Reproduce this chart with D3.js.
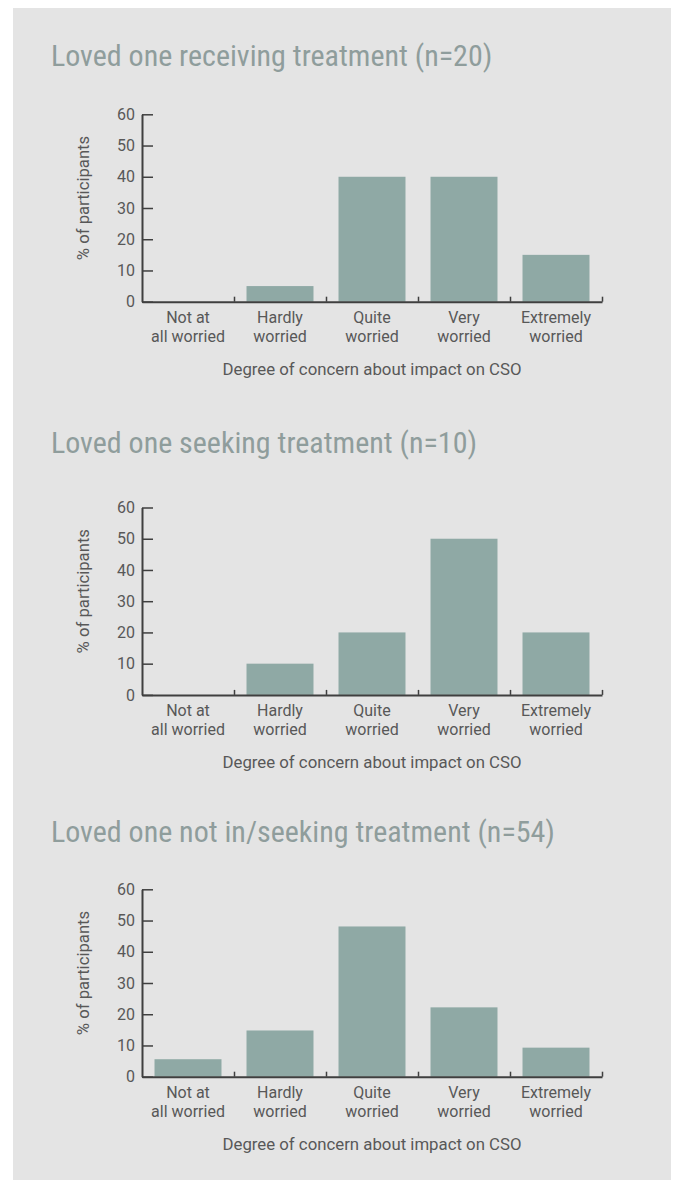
<!DOCTYPE html>
<html lang="en">
<head>
    <meta charset="UTF-8">
    <title>Degree of concern about impact on CSO</title>
    <style>
        body { margin: 0; background: #fff; }
        svg text { font-family: Roboto, "Liberation Sans", sans-serif; }
        svg text.title { font-family: "Liberation Sans Narrow", "Roboto Condensed", "DejaVu Sans Condensed", sans-serif; }
    </style>
</head>
<body>
<script src="https://d3js.org/d3.v7.min.js"></script>
<script>
    // chart data
    const categories = ["Not at all worried", "Hardly worried", "Quite worried", "Very worried", "Extremely worried"];
    const categoryLines = [["Not at", "all worried"], ["Hardly", "worried"], ["Quite", "worried"], ["Very", "worried"], ["Extremely", "worried"]];
    const titles = [
        "Loved one receiving treatment (n=20)",
        "Loved one seeking treatment (n=10)",
        "Loved one not in/seeking treatment (n=54)"
    ];
    const receivingValues = [0, 5, 40, 40, 15];
    const seekingValues = [0, 10, 20, 50, 20];
    const notSeekingValues = [5.6, 14.8, 48.1, 22.2, 9.3];
    const yTicks = [0, 10, 20, 30, 40, 50, 60];
    const yLabel = "% of participants";
    const xLabel = "Degree of concern about impact on CSO";

    // layout
    const width = 676, height = 1184;
    const left = 142, right = 602;
    const plotHeight = 187.4;
    const plotTops = [114.3, 507.5, 889.3];
    const titleBaselines = [66, 453, 842];
    const barColor = "#8fa9a5";
    const textColor = "#585858";
    const axisColor = "#3f3f3f";

    const svg = d3.select("body")
        .append("svg")
        .attr("width", width)
        .attr("height", height);

    // grey panel behind everything
    svg.append("rect")
        .attr("x", 13)
        .attr("y", 8)
        .attr("width", 658)
        .attr("height", 1172)
        .attr("fill", "#e4e4e4");

    const x = d3.scaleBand()
        .domain(categories)
        .range([left, right])
        .paddingInner(0.272)
        .paddingOuter(0.136);

    // boundaries between categories for the small upward ticks
    const xEdge = d3.scaleLinear()
        .domain([0, categories.length])
        .range([left, right]);

    const y = d3.scaleLinear()
        .domain([0, 60])
        .range([plotHeight, 0]);

    function drawChart(values, title, top, titleY) {
        svg.append("text")
            .attr("class", "title")
            .attr("x", 51)
            .attr("y", titleY)
            .attr("fill", "#8f9d9c")
            .style("font-size", "30px")
            .text(title);

        const g = svg.append("g")
            .attr("transform", `translate(0,${top})`);

        // bars
        g.selectAll("rect.bar")
            .data(values)
            .join("rect")
            .attr("class", "bar")
            .attr("x", (d, i) => x(categories[i]))
            .attr("width", x.bandwidth())
            .attr("y", d => y(d))
            .attr("height", d => plotHeight - y(d))
            .attr("fill", barColor);

        // y axis, ticks pointing inward
        const yAxis = g.append("g")
            .attr("transform", `translate(${left},0)`)
            .call(d3.axisLeft(y).tickValues(yTicks).tickSizeInner(-11).tickSizeOuter(0).tickPadding(7));
        yAxis.select(".domain").attr("stroke", axisColor).attr("stroke-width", 2);
        yAxis.selectAll(".tick line").attr("stroke", axisColor).attr("stroke-width", 1.5);
        yAxis.selectAll(".tick text")
            .attr("fill", textColor)
            .style("font-size", "16px");

        // x axis labels (band centres), two lines each
        const xAxis = g.append("g")
            .attr("transform", `translate(0,${plotHeight})`)
            .call(d3.axisBottom(x).tickSize(0).tickPadding(10));
        xAxis.select(".domain").remove();
        xAxis.selectAll(".tick text")
            .attr("fill", textColor)
            .style("font-size", "16px")
            .each(function (d, i) {
                const t = d3.select(this);
                t.text(null);
                categoryLines[i].forEach((line, j) => {
                    t.append("tspan")
                        .attr("x", 0)
                        .attr("dy", j === 0 ? "0.71em" : "1.2em")
                        .text(line);
                });
            });

        // baseline with small ticks at category edges
        const edgeAxis = g.append("g")
            .attr("transform", `translate(0,${plotHeight})`)
            .call(d3.axisBottom(xEdge).tickValues(d3.range(1, categories.length + 1)).tickSizeInner(-5).tickSizeOuter(0).tickFormat(""));
        edgeAxis.select(".domain").attr("stroke", axisColor).attr("stroke-width", 2);
        edgeAxis.selectAll(".tick line").attr("stroke", axisColor).attr("stroke-width", 1.5);

        // axis titles
        g.append("text")
            .attr("transform", `translate(89,${plotHeight / 2 - 10}) rotate(-90)`)
            .attr("text-anchor", "middle")
            .attr("fill", textColor)
            .style("font-size", "16.7px")
            .text(yLabel);

        g.append("text")
            .attr("x", (left + right) / 2)
            .attr("y", plotHeight + 73)
            .attr("text-anchor", "middle")
            .attr("fill", textColor)
            .style("font-size", "16.8px")
            .text(xLabel);
    }

    drawChart(receivingValues, titles[0], plotTops[0], titleBaselines[0]);
    drawChart(seekingValues, titles[1], plotTops[1], titleBaselines[1]);
    drawChart(notSeekingValues, titles[2], plotTops[2], titleBaselines[2]);
</script>
</body>
</html>
